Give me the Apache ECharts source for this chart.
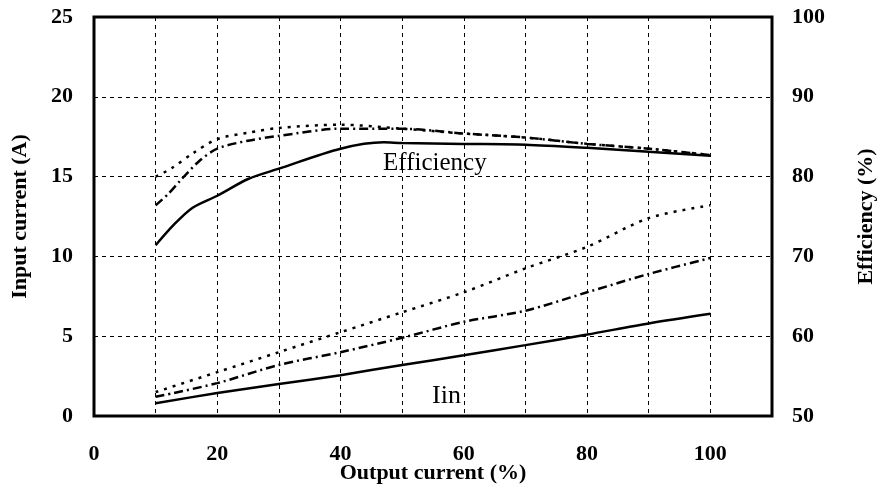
<!DOCTYPE html>
<html>
<head>
<meta charset="utf-8">
<script src="https://cdn.jsdelivr.net/npm/echarts@6/dist/echarts.min.js"></script>
<style>
html,body{margin:0;padding:0;background:#fff;}
#chart{width:889px;height:493px;}
</style>
</head>
<body>
<div id="chart"></div>
<script>
// Output current (%) positions
var outputCurrent = [10, 20, 30, 40, 50, 60, 70, 80, 90, 100];
// Efficiency (%) curves
var effSolidX = [10, 13, 16, 20, 25, 30, 40, 47, 50, 60, 70, 80, 90, 100];
var effSolid  = [71.4, 74.0, 76.1, 77.6, 79.7, 81.0, 83.5, 84.3, 84.2, 84.1, 84.0, 83.6, 83.1, 82.6];
var effDashDotX = [10, 12, 14, 17, 20, 25, 30, 40, 50, 60, 70, 80, 90, 100];
var effDashDot  = [76.4, 77.8, 79.5, 81.9, 83.5, 84.5, 85.1, 86.0, 86.0, 85.4, 84.9, 84.1, 83.5, 82.7];
var effDottedX = [10, 12.5, 16, 20, 25, 30, 40, 50, 60, 70, 80, 90, 100];
var effDotted  = [80.0, 81.0, 82.9, 84.7, 85.5, 86.1, 86.5, 86.0, 85.4, 84.9, 84.1, 83.5, 82.7];
// Input current (A) curves
var iinSolid    = [0.8, 1.44, 2.0, 2.56, 3.2, 3.8, 4.44, 5.1, 5.8, 6.4];
var iinDashDot  = [1.2, 2.06, 3.2, 4.0, 4.9, 5.9, 6.6, 7.75, 8.9, 9.9];
var iinDotted   = [1.5, 2.75, 4.0, 5.25, 6.5, 7.75, 9.25, 10.6, 12.4, 13.2];
// Tick labels
var xTickLabels = ['0', '20', '40', '60', '80', '100'];
var leftTicks = ['0', '5', '10', '15', '20', '25'];
var rightTicks = ['50', '60', '70', '80', '90', '100'];

function pairs(xs, ys){ return xs.map(function(x,i){ return [x, ys[i]]; }); }

var font = 'Liberation Serif';
var chart = echarts.init(document.getElementById('chart'));
var dashDot = [9, 4, 2, 4];
var dotted = [3, 6];
var lw = 2.5;

function line(name, data, yIdx, type){
  return {
    name: name, type: 'line', yAxisIndex: yIdx, data: data,
    showSymbol: false, smooth: 0.3, animation: false,
    lineStyle: { color: '#000', width: lw, type: type }
  };
}

chart.setOption({
  backgroundColor: '#fff',
  animation: false,
  grid: { left: 94, right: 117, top: 17, bottom: 77, show: true, borderColor: '#000', borderWidth: 3,
          containLabel: false, outerBoundsMode: 'none' },
  xAxis: {
    type: 'value', min: 0, max: 110, interval: 10,
    name: 'Output current (%)', nameLocation: 'middle', nameGap: 46, nameMoveOverlap: false,
    nameTextStyle: { fontFamily: font, fontSize: 22, fontWeight: 'bold', color: '#000' },
    axisLine: { show: false }, axisTick: { show: false },
    axisLabel: {
      margin: 27, fontFamily: font, fontSize: 22, fontWeight: 'bold', color: '#000',
      formatter: function(v){ var s = String(v); return xTickLabels.indexOf(s) >= 0 ? s : ''; }
    },
    splitLine: { show: true, lineStyle: { color: '#000', width: 1, type: [4, 4] } }
  },
  yAxis: [
    {
      type: 'value', min: 0, max: 25, interval: 5, position: 'left',
      name: 'Input current (A)', nameLocation: 'middle', nameGap: 63, nameMoveOverlap: false,
      nameTextStyle: { fontFamily: font, fontSize: 22, fontWeight: 'bold', color: '#000' },
      axisLine: { show: false }, axisTick: { show: false },
      axisLabel: { margin: 21, fontFamily: font, fontSize: 22, fontWeight: 'bold', color: '#000',
        formatter: function(v){ var s = String(v); return leftTicks.indexOf(s) >= 0 ? s : ''; } },
      splitLine: { show: true, lineStyle: { color: '#000', width: 1, type: [4, 4] } }
    },
    {
      type: 'value', min: 50, max: 100, interval: 10, position: 'right',
      name: 'Efficiency (%)', nameLocation: 'middle', nameGap: 83, nameMoveOverlap: false,
      nameTextStyle: { fontFamily: font, fontSize: 22, fontWeight: 'bold', color: '#000' },
      axisLine: { show: false }, axisTick: { show: false },
      axisLabel: { margin: 20, fontFamily: font, fontSize: 22, fontWeight: 'bold', color: '#000',
        formatter: function(v){ var s = String(v); return rightTicks.indexOf(s) >= 0 ? s : ''; } },
      splitLine: { show: false }
    }
  ],
  series: [
    line('Efficiency solid', pairs(effSolidX, effSolid), 1, 'solid'),
    line('Efficiency dash-dot', pairs(effDashDotX, effDashDot), 1, dashDot),
    line('Efficiency dotted', pairs(effDottedX, effDotted), 1, dotted),
    line('Iin solid', pairs(outputCurrent, iinSolid), 0, 'solid'),
    line('Iin dash-dot', pairs(outputCurrent, iinDashDot), 0, dashDot),
    line('Iin dotted', pairs(outputCurrent, iinDotted), 0, dotted)
  ],
  graphic: [
    { type: 'text', left: 383, top: 151, style: { text: 'Efficiency', fontFamily: font, fontSize: 25, fill: '#000' } },
    { type: 'text', left: 432, top: 383, style: { text: 'Iin', fontFamily: font, fontSize: 26, fill: '#000' } }
  ]
});
</script>
</body>
</html>
